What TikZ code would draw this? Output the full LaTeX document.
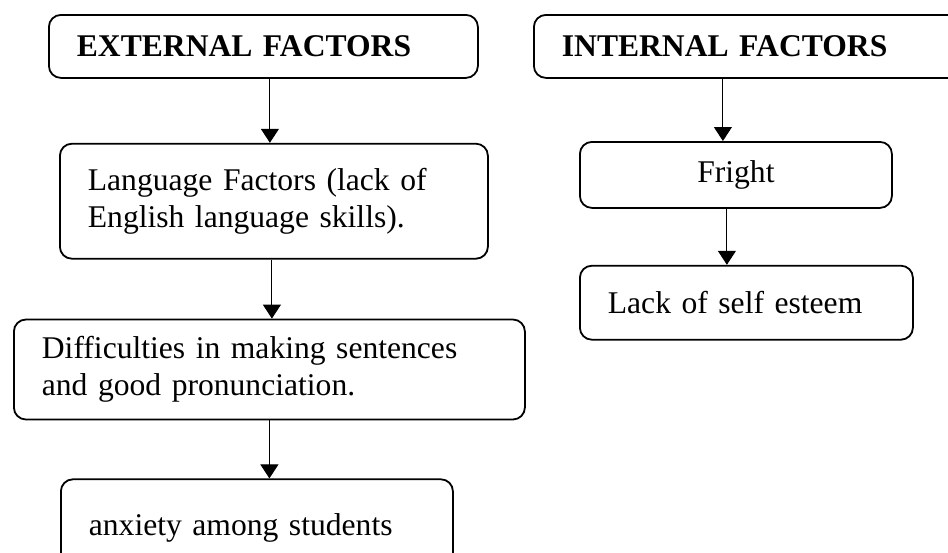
\documentclass[tikz,border=0pt]{standalone}
\usepackage{fontspec}
\setmainfont{Liberation Serif}
\usetikzlibrary{positioning,arrows.meta}

\begin{document}
\begin{tikzpicture}[x=1pt,y=1pt,
        box/.style = {draw, line width=0.9pt, rounded corners=6pt, inner xsep=14pt, inner ysep=0pt, align=left, font=\fontsize{15.8}{18.5}\selectfont},
        head/.style = {box, font=\fontsize{15.8}{18.5}\selectfont\bfseries},
        arr/.style = {-{Triangle[width=9pt,length=7pt]}, line width=0.55pt}]
        \useasboundingbox (0,0) rectangle (474,-276);
        \node[head, anchor=north west, text width=186.5pt, minimum height=31.5pt] (ext) at (24,-7) {EXTERNAL FACTORS};
        \node[head, anchor=north west, text width=212pt, minimum height=31.5pt] (int) at (266.5,-7) {INTERNAL FACTORS};
        \node[box, text width=186pt, minimum height=57.5pt] (lang) [below=32pt of ext, xshift=5.25pt] {Language Factors (lack of\\English language skills).};
        \node[box, text width=227.5pt, minimum height=50pt] (diff) [below=29.5pt of lang, xshift=-2.25pt] {Difficulties in making sentences\\and good pronunciation.};
        \node[box, text width=168pt, minimum height=48.5pt] (anx) [below=29pt of diff, xshift=-6.25pt] {anxiety among students};
        \node[box, align=center, anchor=north west, text width=128pt, minimum height=33pt] (fright) at (289.5,-70.5) {Fright};
        \node[box, text width=138.5pt, minimum height=37pt] (lack) [below=28pt of fright, xshift=5.25pt] {Lack of self esteem};
        % arrows on the left
        \path (ext.south) ++(3.25,0) coordinate (a1);
        \draw[arr] (a1) -- (a1 |- lang.north);
        \path (lang.south) ++(-1,0) coordinate (a2);
        \draw[arr] (a2) -- (a2 |- diff.north);
        \draw[arr] (diff.south) -- (diff.south |- anx.north);
        % arrows on the right
        \path (fright.north) ++(-6.5,0) coordinate (a4);
        \draw[arr] (int.south -| a4) -- (a4);
        \path (fright.south) ++(-4.5,0) coordinate (a5);
        \draw[arr] (a5) -- (a5 |- lack.north);
\end{tikzpicture}
\end{document}
